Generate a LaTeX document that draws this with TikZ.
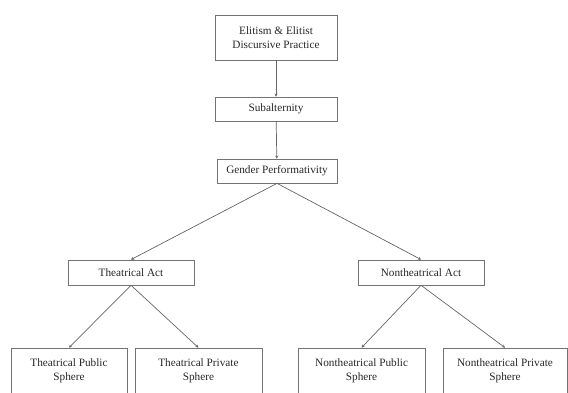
\documentclass[tikz,border=0pt]{standalone}
\usepackage{fontspec}
\setmainfont{Liberation Serif}
\usetikzlibrary{arrows.meta}

\tikzset{
  box/.style={draw=black!55, line width=0.5pt, text=black!85, align=center, inner sep=1pt,
    font=\fontsize{8}{10}\selectfont},
  link/.style={draw=black!60, line width=0.5pt, -{Stealth[length=2.2pt,width=2.2pt]}}
}

\begin{document}
\begin{tikzpicture}
			%%%%% START %%%%%
			
			\clip (0, 0) rectangle (14.2, 9.8);
			
			\node[box, minimum width=3.05cm, minimum height=1.125cm] (elit) at (6.9, 8.86) {Elitism \& Elitist\\Discursive Practice};
			\node[box, minimum width=3.05cm, minimum height=0.6cm] (sub) at (6.9, 7.075) {Subalternity};
			\node[box, minimum width=3.0cm, minimum height=0.6cm] (gender) at (6.925, 5.525) {Gender Performativity};
			
			\node[box, minimum width=3.15cm, minimum height=0.625cm] (tact) at (3.275, 2.99) {Theatrical Act};
			\node[box, minimum width=3.15cm, minimum height=0.625cm] (ntact) at (10.525, 2.99) {Nontheatrical Act};
			
			\node[box, minimum width=2.9cm, minimum height=1.15cm] (tpub) at (1.725, 0.525) {Theatrical Public\\Sphere};
			\node[box, minimum width=3.175cm, minimum height=1.15cm] (tpriv) at (4.96, 0.525) {Theatrical Private\\Sphere};
			\node[box, minimum width=3.175cm, minimum height=1.15cm] (ntpub) at (9.04, 0.525) {Nontheatrical Public\\Sphere};
			\node[box, minimum width=3.1cm, minimum height=1.15cm] (ntpriv) at (12.625, 0.525) {Nontheatrical Private\\Sphere};
			
			\draw[link] (elit) -- (sub);
			\draw[link] (sub) -- (gender);
			\draw[link] (gender.south) -- (tact.north);
			\draw[link] (gender.south) -- (ntact.north);
			\draw[link] (tact.south) -- (tpub.north);
			\draw[link] (tact.south) -- (tpriv.north);
			\draw[link] (ntact.south) -- (ntpub.north);
			\draw[link] (ntact.south) -- (ntpriv.north);
			
			%%%%% END %%%%%
\end{tikzpicture}
\end{document}
